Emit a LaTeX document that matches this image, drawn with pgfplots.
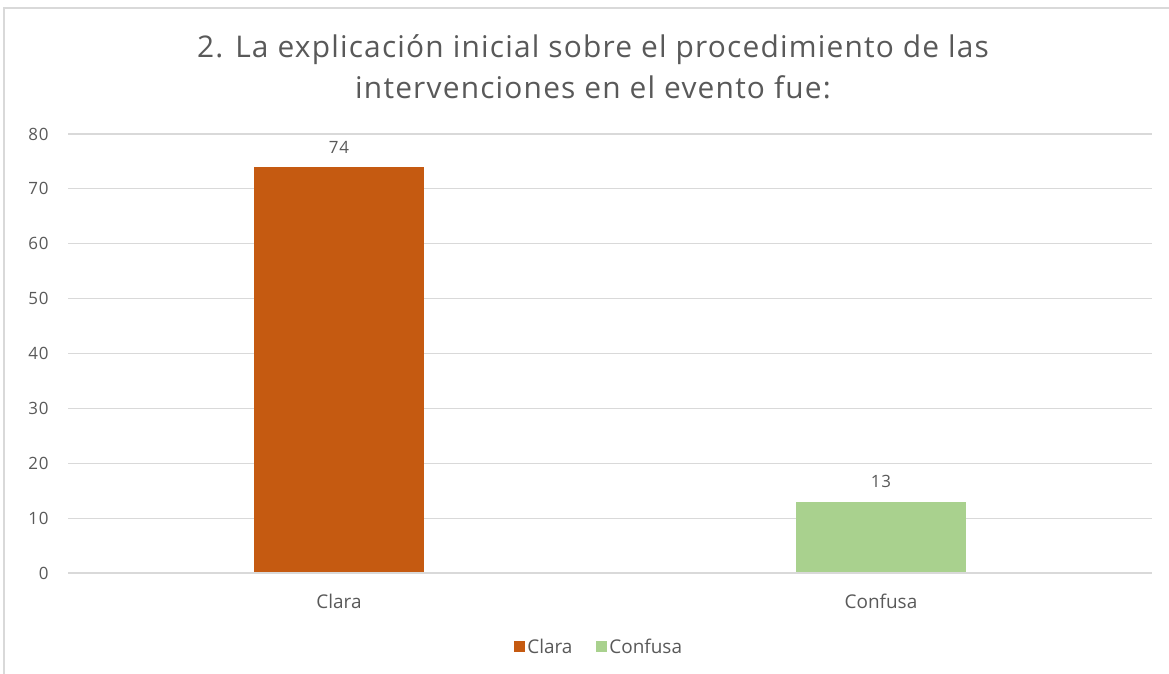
\documentclass[border=0pt]{standalone}
\usepackage{pgfplots}
\pgfplotsset{compat=1.18}
\usepackage{fontspec}
\setmainfont{Open Sans}
\definecolor{clara}{HTML}{C55A11}
\definecolor{confusa}{HTML}{A9D18E}
\definecolor{gridc}{HTML}{D9D9D9}
\definecolor{txt}{HTML}{595959}
\begin{document}
\begin{tikzpicture}[x=1bp,y=1bp]
\useasboundingbox (0,0) rectangle (1169,674);
\draw[gridc, line width=2bp] (4,0) -- (4,666) -- (1169,666);
\node[txt, align=center, font=\fontsize{30}{41}\selectfont\addfontfeatures{LetterSpace=4}] at (593,607) {2. La explicación inicial sobre el procedimiento de las\\intervenciones en el evento fue:};
\begin{axis}[
  at={(68bp,101bp)}, anchor=south west,
  scale only axis, width=1084bp, height=439bp,
  xmin=-0.5, xmax=1.5, ymin=0, ymax=80,
  ytick={0,10,...,80},
  xtick={0,1}, xticklabels={Clara,Confusa},
  ymajorgrids, grid style={gridc, line width=1.2bp},
  axis line style={draw=none},
  major tick length=0pt,
  tick label style={txt, font=\fontsize{17}{20}\selectfont\addfontfeatures{LetterSpace=4}},
  yticklabel style={xshift=-16bp},
  xticklabel style={yshift=-18bp, font=\fontsize{19}{22}\selectfont},
  /pgf/number format/assume math mode=true,
  ybar, bar width=170bp,
  nodes near coords,
  every node near coord/.append style={txt, font=\fontsize{17}{20}\selectfont\addfontfeatures{LetterSpace=4}, yshift=10bp},
  legend style={at={(0.49,-0.169)}, anchor=center, draw=none, legend columns=2,
    font=\fontsize{19}{22}\selectfont, text=txt,
    /tikz/every even column/.append style={column sep=22bp}},
  legend image code/.code={\fill[#1] (0bp,-5bp) rectangle (11bp,6bp);},
  clip=false,
]
\addplot[fill=clara, draw=none, bar shift=0pt] coordinates {(0,74)};
\addplot[fill=confusa, draw=none, bar shift=0pt] coordinates {(1,13)};
\legend{Clara,Confusa}
\draw[gridc, line width=1.5bp] (axis cs:-0.5,0) -- (axis cs:1.5,0);
\end{axis}
\end{tikzpicture}
\end{document}
